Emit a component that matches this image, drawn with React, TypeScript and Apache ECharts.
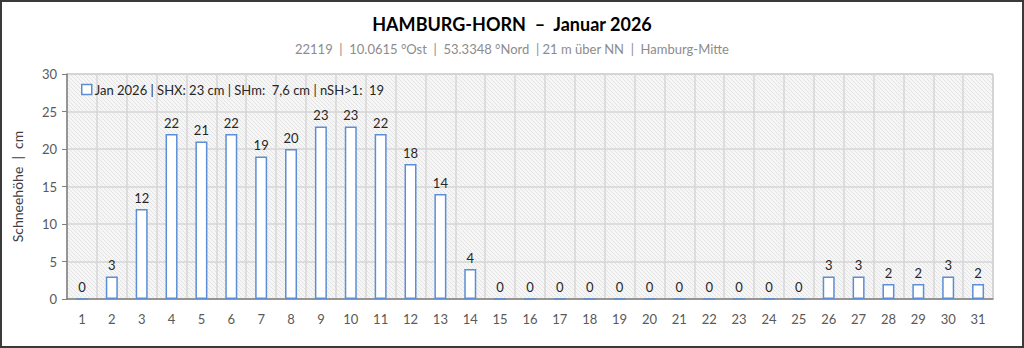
import React, { useEffect, useRef } from "react";
import * as echarts from "echarts";

const days = Array.from({ length: 31 }, (_, i) => String(i + 1));
const snowDepth = [0, 3, 12, 22, 21, 22, 19, 20, 23, 23, 22, 18, 14, 4, 0, 0, 0, 0, 0, 0, 0, 0, 0, 0, 0, 3, 3, 2, 2, 3, 2];
const yTicks = [0, 5, 10, 15, 20, 25, 30];
const titleText = "HAMBURG-HORN  \u2013  Januar 2026";
const subtitleText = "22119  |  10.0615 \u00B0Ost  |  53.3348 \u00B0Nord  | 21 m \u00FCber NN  |  Hamburg-Mitte";
const seriesName = "Jan 2026 | SHX: 23 cm | SHm:  7,6 cm | nSH>1:  19";

const hatchSvg =
  "data:image/svg+xml;charset=utf-8," +
  encodeURIComponent(
    '<svg xmlns="http://www.w3.org/2000/svg" width="4" height="4"><rect width="4" height="4" fill="#f6f6f6"/><path d="M-1,-1 L5,5 M-1,3 L1,5 M3,-1 L5,1" stroke="#e4e4e4" stroke-width="1"/></svg>'
  );

export default function App() {
  const ref = useRef<HTMLDivElement>(null);
  useEffect(() => {
    if (!ref.current) return;
    const chart = echarts.init(ref.current, null, { renderer: "svg" });
    const img = new Image();
    img.src = hatchSvg;
    chart.setOption({
      animation: false,
      backgroundColor: "#ffffff",
      textStyle: { fontFamily: "Lato, 'Open Sans', sans-serif" },
      title: [
        {
          text: titleText,
          left: "center",
          top: 10,
          textStyle: { fontSize: 18, fontWeight: "bold", color: "#000000", fontFamily: "Lato, sans-serif" },
        },
        {
          text: subtitleText,
          left: "center",
          top: 37,
          textStyle: { fontSize: 13, fontWeight: "normal", color: "#8c8c8c", fontFamily: "Lato, sans-serif" },
        },
      ],
      legend: {
        show: true,
        left: 76,
        top: 78,
        itemWidth: 10,
        itemHeight: 10,
        itemGap: 4,
        icon: "rect",
        textStyle: { fontSize: 13, color: "#262626", fontFamily: "Lato, sans-serif", padding: [0, 0, 0, -2] },
        data: [{ name: seriesName, itemStyle: { color: "#ffffff", borderColor: "#5b8ed6", borderWidth: 1.5 } }],
      },
      grid: {
        left: 67,
        right: 31,
        top: 74,
        bottom: 49,
        show: true,
        backgroundColor: { image: img, repeat: "repeat" } as any,
        borderColor: "#a6a6a6",
        borderWidth: 1,
      },
      xAxis: {
        type: "category",
        data: days,
        boundaryGap: true,
        axisLine: { lineStyle: { color: "#808080", width: 1.5 } },
        axisTick: { show: false },
        axisLabel: { color: "#595959", fontSize: 13, margin: 13 },
        splitLine: { show: true, lineStyle: { color: "#d6d6d6", width: 1.5 } },
      },
      yAxis: {
        type: "value",
        min: 0,
        max: 30,
        interval: 5,
        name: "Schneeh\u00F6he  |  cm",
        nameLocation: "middle",
        nameGap: 43,
        nameTextStyle: { fontSize: 14, color: "#404040" },
        axisLine: { show: true, lineStyle: { color: "#808080", width: 1.5 } },
        axisTick: { show: true, length: 5, lineStyle: { color: "#808080" } },
        axisLabel: {
          color: "#595959",
          fontSize: 13,
          margin: 10,
          formatter: (v: number) => (yTicks.includes(v) ? String(v) : ""),
        },
        splitLine: { show: true, lineStyle: { color: "#d6d6d6", width: 1.5 } },
      },
      series: [
        {
          name: seriesName,
          type: "bar",
          data: snowDepth,
          barWidth: 12,
          itemStyle: { color: "#ffffff", borderColor: "#5b8ed6", borderWidth: 1.5 },
          label: { show: true, position: "top", color: "#262626", fontSize: 13, distance: 5 },
        },
      ],
      graphic: [
        {
          type: "rect",
          shape: { x: 1, y: 1, width: 1022, height: 346 },
          style: { fill: "none", stroke: "#3a3a3a", lineWidth: 2 },
          silent: true,
        },
      ],
    });
    img.onload = () => {
      chart.setOption({ grid: { backgroundColor: { image: img, repeat: "repeat" } as any } });
    };
    return () => chart.dispose();
  }, []);
  return (
    <div style={{ position: "fixed", left: 0, top: 0, width: 1024, height: 348 }}>
      <div ref={ref} style={{ width: 1024, height: 348 }} />
    </div>
  );
}
